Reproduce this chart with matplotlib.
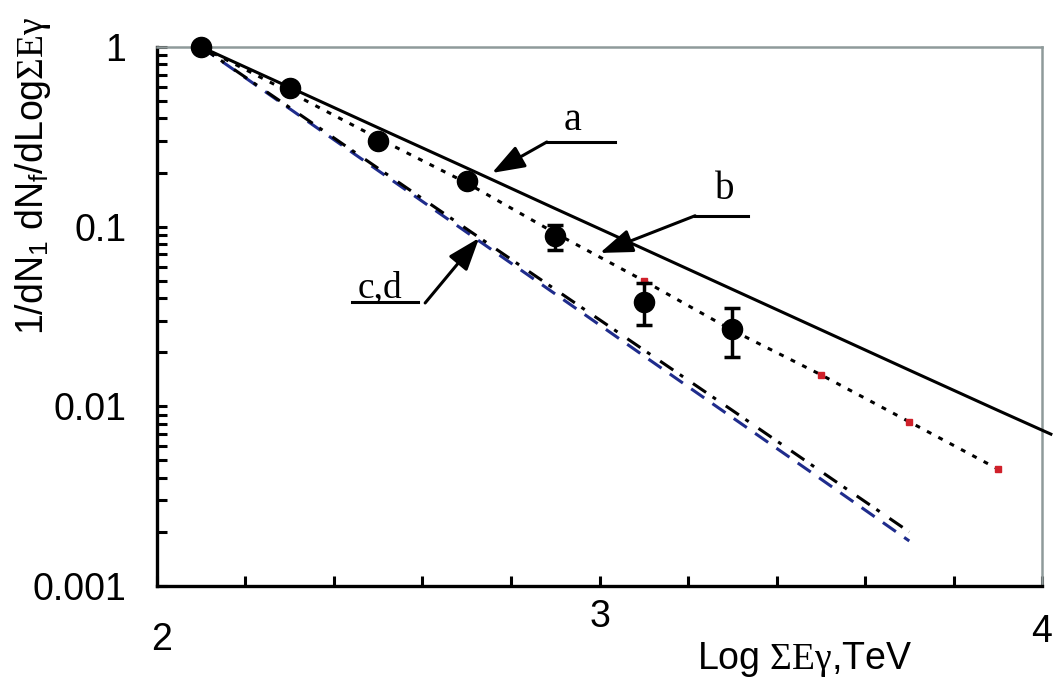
import matplotlib
matplotlib.use('Agg')
import matplotlib.pyplot as plt
from matplotlib.ticker import LogLocator, NullFormatter, FixedLocator

plt.rcParams['font.family'] = ['Liberation Sans', 'DejaVu Sans']
plt.rcParams['mathtext.fontset'] = 'custom'
plt.rcParams['mathtext.rm'] = 'Liberation Serif'
plt.rcParams['mathtext.it'] = 'Liberation Serif:italic'
plt.rcParams['mathtext.sf'] = 'Liberation Sans'

# measured points with error bars
x_meas = [2.1, 2.3, 2.5, 2.7, 2.9, 3.1, 3.3]
y_meas = [1.0, 0.59, 0.30, 0.18, 0.089, 0.038, 0.027]
err_lo = [0, 0, 0, 0, 0.0148, 0.0096, 0.0082]
err_hi = [0, 0, 0, 0, 0.013, 0.0106, 0.0083]

# curve a (solid)
x_a = [2.1, 2.3, 2.5, 2.7, 2.9, 3.1, 3.3, 3.5, 3.7, 3.9, 4.02]
y_a = [1.0, 0.596, 0.355, 0.212, 0.126, 0.0752, 0.0448, 0.0267, 0.0159, 0.0095, 0.0070]

# curve b (dotted)
x_b = [2.1, 2.3, 2.5, 2.7, 2.9, 3.1, 3.3, 3.5, 3.7, 3.9]
y_b = [1.0, 0.56, 0.31, 0.175, 0.092, 0.050, 0.0265, 0.0150, 0.0082, 0.00448]

# curves c (dash-dot) and d (dashed blue)
x_cd = [2.1, 2.3, 2.5, 2.7, 2.9, 3.1, 3.3, 3.5, 3.7]
y_c = [1.0, 0.46, 0.211, 0.097, 0.0447, 0.0206, 0.0095, 0.00435, 0.0020]
y_d = [1.0, 0.453, 0.205, 0.093, 0.0422, 0.0191, 0.00867, 0.00394, 0.00178]

xticks = [2.0, 2.2, 2.4, 2.6, 2.8, 3.0, 3.2, 3.4, 3.6, 3.8, 4.0]
yticks = [1, 0.1, 0.01, 0.001]
ytick_labels = ['1', '0.1', '0.01', '0.001']

fig = plt.figure(figsize=(10.55, 6.88), dpi=100)
ax = fig.add_axes([0.1488, 0.1483, 0.8389, 0.7834])

ax.plot(x_cd, y_d, color='#1f2c8c', lw=2.2, ls=(0, (5.2, 3.3)), zorder=2)
ax.plot(x_cd, y_c, color='black', lw=2.2, ls=(0, (5.2, 2.6, 1.3, 3.9)), zorder=2)
ax.plot(x_b, y_b, color='black', lw=2.2, ls=(0, (1.6, 2.6)), zorder=2,
        marker='s', markersize=4.5, markerfacecolor='#d0202a', markeredgecolor='#d0202a',
        markevery=[5, 6, 7, 8, 9])
ax.plot(x_a, y_a, color='black', lw=2.2, zorder=3, clip_on=False)

ax.errorbar(x_meas, y_meas, yerr=[err_lo, err_hi], fmt='none', ecolor='black',
            elinewidth=2.5, capsize=6, capthick=2.5, zorder=4)
ax.plot(x_meas, y_meas, 'o', color='black', markersize=14.5, zorder=5, clip_on=False)

ax.set_yscale('log')
ax.set_xlim(2, 4)
ax.set_ylim(0.001, 1)

ax.xaxis.set_major_locator(FixedLocator(xticks))
ax.set_xticklabels([])
ax.set_yticks(yticks)
ax.set_yticklabels(ytick_labels)
ax.yaxis.set_minor_locator(LogLocator(base=10, subs=[2, 3, 4, 5, 6, 7, 8, 9]))
ax.yaxis.set_minor_formatter(NullFormatter())
ax.tick_params(axis='both', which='both', direction='in', length=7, width=2.2,
               top=False, right=False, labelsize=27)
ax.tick_params(axis='y', pad=22)

for s in ['left', 'bottom']:
    ax.spines[s].set_linewidth(2.4)
for s in ['top', 'right']:
    ax.spines[s].set_linewidth(1.8)
    ax.spines[s].set_color('#8f9a9a')

# x tick labels at uneven heights
xlab_pos = [(2.01, '2', -0.100), (3, '3', -0.0575), (4, '4', -0.085)]
tr = ax.get_xaxis_transform()
for xv, lab, yv in xlab_pos:
    ax.text(xv, yv, lab, transform=tr, ha='center', va='center', fontsize=27)

fig.text(0.763, 0.041, r'Log $\mathrm{\Sigma E\gamma}$,TeV', ha='center', va='center', fontsize=27)
fig.text(0.031, 0.745, r'1/dN$_\mathsf{1}$ dN$_\mathsf{f}$/dLog$\mathrm{\Sigma E\gamma}$',
         rotation=90, ha='center', va='center', fontsize=27)

# annotations
arrow = dict(arrowstyle='-|>,head_length=1.0,head_width=0.36', color='black', lw=2.2,
             mutation_scale=20, shrinkA=0, shrinkB=0)
ax.text(2.938, 0.39, 'a', family='Liberation Serif', fontsize=29, ha='center', va='center')
ax.plot([2.881, 3.035], [0.296, 0.296], color='black', lw=2.2)
ax.annotate('', xy=(2.757, 0.199), xytext=(2.881, 0.296), arrowprops=arrow)

ax.text(3.284, 0.16, 'b', family='Liberation Serif', fontsize=28, ha='center', va='center')
ax.plot([3.216, 3.336], [0.115, 0.115], color='black', lw=2.2)
ax.annotate('', xy=(3.001, 0.0714), xytext=(3.216, 0.115), arrowprops=arrow)

ax.text(2.505, 0.0455, 'c,d', family='Liberation Serif', fontsize=27, ha='center', va='center')
ax.plot([2.441, 2.590], [0.0381, 0.0381], color='black', lw=2.2)
ax.annotate('', xy=(2.728, 0.0865), xytext=(2.606, 0.0376), arrowprops=arrow)

fig.savefig('out.png', dpi=100)
